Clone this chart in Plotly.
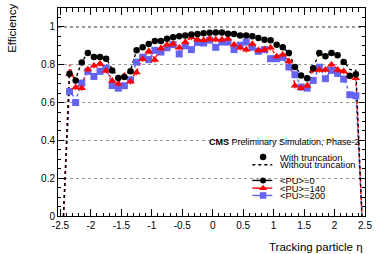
import plotly.graph_objects as go

# eta bin centres (with-truncation markers)
eta = [-2.35, -2.25, -2.15, -2.05, -1.95, -1.85, -1.75, -1.65, -1.55, -1.45,
       -1.35, -1.25, -1.15, -1.05, -0.95, -0.85, -0.75, -0.65, -0.55, -0.45,
       -0.35, -0.25, -0.15, -0.05, 0.05, 0.15, 0.25, 0.35, 0.45, 0.55,
       0.65, 0.75, 0.85, 0.95, 1.05, 1.15, 1.25, 1.35, 1.45, 1.55,
       1.65, 1.75, 1.85, 1.95, 2.05, 2.15, 2.25, 2.35]
# eta bin centres for the without-truncation curves (include edge bins)
eta_full = [-2.45] + eta + [2.45]

eff_pu0 = [0.752, 0.717, 0.812, 0.862, 0.841, 0.841, 0.832, 0.770, 0.730, 0.735,
           0.765, 0.876, 0.892, 0.910, 0.926, 0.926, 0.938, 0.945, 0.950, 0.954,
           0.960, 0.963, 0.966, 0.969, 0.970, 0.970, 0.964, 0.962, 0.955, 0.955,
           0.950, 0.941, 0.932, 0.929, 0.906, 0.892, 0.862, 0.788, 0.743, 0.729,
           0.782, 0.862, 0.845, 0.862, 0.850, 0.815, 0.742, 0.750]
eff_pu140 = [0.750, 0.680, 0.676, 0.775, 0.795, 0.805, 0.768, 0.715, 0.700, 0.742,
             0.711, 0.759, 0.830, 0.871, 0.826, 0.887, 0.905, 0.910, 0.890, 0.920,
             0.945, 0.933, 0.930, 0.937, 0.933, 0.933, 0.938, 0.906, 0.890, 0.880,
             0.910, 0.876, 0.880, 0.890, 0.844, 0.853, 0.818, 0.689, 0.676, 0.689,
             0.773, 0.773, 0.773, 0.800, 0.773, 0.765, 0.738, 0.729]
eff_pu200 = [0.658, 0.600, 0.703, 0.765, 0.738, 0.765, 0.782, 0.690, 0.676, 0.689,
             0.720, 0.814, 0.840, 0.827, 0.876, 0.867, 0.890, 0.906, 0.857, 0.900,
             0.880, 0.918, 0.915, 0.930, 0.892, 0.920, 0.920, 0.880, 0.903, 0.920,
             0.892, 0.871, 0.880, 0.832, 0.832, 0.839, 0.788, 0.747, 0.682, 0.676,
             0.717, 0.787, 0.726, 0.770, 0.754, 0.724, 0.641, 0.636]

eff_pu0_notrunc = [0.0, 0.760, 0.725, 0.815, 0.862, 0.845, 0.845, 0.835, 0.775, 0.735, 0.740,
                   0.770, 0.876, 0.892, 0.910, 0.926, 0.926, 0.938, 0.945, 0.950, 0.954,
                   0.960, 0.963, 0.966, 0.969, 0.970, 0.970, 0.964, 0.962, 0.955, 0.955,
                   0.950, 0.941, 0.932, 0.929, 0.906, 0.892, 0.862, 0.790, 0.748, 0.735,
                   0.785, 0.862, 0.848, 0.862, 0.852, 0.820, 0.775, 0.770, 0.0]
eff_pu140_notrunc = [0.0, 0.800, 0.690, 0.680, 0.780, 0.800, 0.810, 0.770, 0.720, 0.705, 0.745,
                     0.715, 0.765, 0.835, 0.871, 0.830, 0.890, 0.905, 0.910, 0.892, 0.920,
                     0.945, 0.933, 0.930, 0.937, 0.933, 0.933, 0.938, 0.906, 0.890, 0.880,
                     0.910, 0.876, 0.880, 0.890, 0.846, 0.855, 0.820, 0.695, 0.680, 0.692,
                     0.775, 0.775, 0.775, 0.805, 0.775, 0.768, 0.745, 0.735, 0.0]
eff_pu200_notrunc = [0.0, 0.670, 0.610, 0.705, 0.765, 0.740, 0.765, 0.782, 0.692, 0.678, 0.690,
                     0.722, 0.814, 0.840, 0.827, 0.876, 0.867, 0.890, 0.906, 0.857, 0.900,
                     0.880, 0.918, 0.915, 0.930, 0.892, 0.920, 0.920, 0.880, 0.903, 0.920,
                     0.892, 0.871, 0.880, 0.832, 0.832, 0.839, 0.790, 0.750, 0.685, 0.678,
                     0.720, 0.787, 0.728, 0.772, 0.756, 0.726, 0.650, 0.640, 0.0]

err_pu0 = 0.008
err_pu140 = 0.015
err_pu200 = 0.015

series_names = ["<PU>=0", "<PU>=140", "<PU>=200"]
colors = ["black", "#ff0000", "#6464f0"]
symbols = ["circle", "triangle-up", "square"]
x_ticks = [-2.5, -2, -1.5, -1, -0.5, 0, 0.5, 1, 1.5, 2, 2.5]
x_ticktext = ["-2.5", "-2", "-1.5", "-1", "-0.5", "0", "0.5", "1", "1.5", "2", "2.5"]
y_ticks = [0, 0.2, 0.4, 0.6, 0.8, 1]
y_ticktext = ["0", "0.2", "0.4", "0.6", "0.8", "1"]

FONT = "Liberation Sans, Arial, Helvetica, sans-serif"

fig = go.Figure()

notrunc = [eff_pu0_notrunc, eff_pu140_notrunc, eff_pu200_notrunc]
trunc = [eff_pu0, eff_pu140, eff_pu200]
errs = [err_pu0, err_pu140, err_pu200]
msizes = [6.5, 7.5, 7]

# dotted curves (without truncation), draw back to front
for i in [2, 1, 0]:
    fig.add_trace(go.Scatter(x=eta_full, y=notrunc[i], mode="lines",
                             line=dict(color=colors[i], width=1.4, dash="dot"),
                             showlegend=False, hoverinfo="skip", cliponaxis=True))
for i in [2, 1, 0]:
    fig.add_trace(go.Scatter(x=eta, y=trunc[i], mode="markers",
                             marker=dict(color=colors[i], symbol=symbols[i], size=msizes[i],
                                         line=dict(width=0)),
                             error_y=dict(type="constant", value=errs[i], color=colors[i],
                                          thickness=1, width=0),
                             showlegend=False, name=series_names[i]))

# legend (manual, on overlay axes in [0,1] plot-area coordinates)
leg_x0, leg_x1, leg_xm, leg_tx = 0.633, 0.698, 0.668, 0.716
leg_y = [0.2835, 0.2464, 0.171, 0.134, 0.0988]
fig.add_trace(go.Scatter(x=[leg_xm], y=[leg_y[0]], xaxis="x2", yaxis="y2", mode="markers",
                         marker=dict(color="black", size=6.5), showlegend=False, hoverinfo="skip"))
fig.add_trace(go.Scatter(x=[leg_x0, leg_x1], y=[leg_y[1]] * 2, xaxis="x2", yaxis="y2", mode="lines",
                         line=dict(color="black", width=1.4, dash="dot"), showlegend=False, hoverinfo="skip"))
for i in range(3):
    fig.add_trace(go.Scatter(x=[leg_x0, leg_x1], y=[leg_y[2 + i]] * 2, xaxis="x2", yaxis="y2",
                             mode="lines", line=dict(color=colors[i], width=1.4),
                             showlegend=False, hoverinfo="skip"))
    fig.add_trace(go.Scatter(x=[leg_xm], y=[leg_y[2 + i]], xaxis="x2", yaxis="y2", mode="markers",
                             marker=dict(color=colors[i], symbol=symbols[i], size=msizes[i] - 0.5),
                             showlegend=False, hoverinfo="skip"))

leg_texts = ["With truncation", "Without truncation"] + series_names
annotations = []
for t, yy in zip(leg_texts, leg_y):
    annotations.append(dict(x=leg_tx, y=yy, xref="paper", yref="paper", text=t.replace("<", "&lt;"),
                            showarrow=False, xanchor="left", yanchor="middle",
                            font=dict(family=FONT, size=9.4, color="black")))
annotations.append(dict(x=0.99, y=0.356, xref="paper", yref="paper",
                        text="<b>CMS</b> Preliminary Simulation, Phase-2",
                        showarrow=False, xanchor="right", yanchor="middle",
                        font=dict(family=FONT, size=9, color="black")))
annotations.append(dict(x=1.0, y=-0.148, xref="paper", yref="paper", text="Tracking particle η",
                        showarrow=False, xanchor="right", yanchor="middle",
                        font=dict(family=FONT, size=11.5, color="black")))
annotations.append(dict(x=-0.148, y=1.03, xref="paper", yref="paper", text="Efficiency",
                        showarrow=False, xanchor="center", yanchor="top", textangle=-90,
                        font=dict(family=FONT, size=11.5, color="black")))

fig.update_layout(
    width=382, height=254,
    margin=dict(l=58, r=17, t=8, b=38),
    paper_bgcolor="white", plot_bgcolor="white",
    showlegend=False,
    font=dict(family=FONT, size=10, color="black"),
    annotations=annotations,
    shapes=[dict(type="line", xref="paper", yref="y", x0=0, x1=1, y0=1, y1=1,
                 line=dict(color="black", width=1, dash="dot"), layer="below")],
    xaxis=dict(range=[-2.54, 2.5], tickvals=x_ticks, ticktext=x_ticktext,
               ticks="inside", ticklen=7, tickcolor="black", showline=True, linecolor="black",
               linewidth=1, mirror="allticks", showgrid=False, zeroline=False,
               minor=dict(dtick=0.1, tick0=0, ticks="inside", ticklen=3.5, tickcolor="black", showgrid=False),
               tickfont=dict(family=FONT, size=10)),
    yaxis=dict(range=[0, 1.1], tickvals=y_ticks, ticktext=y_ticktext,
               ticks="inside", ticklen=6, tickcolor="black", showline=True, linecolor="black",
               linewidth=1, mirror="allticks", showgrid=True, gridcolor="#9a9a9a", griddash="dot",
               gridwidth=1, zeroline=False,
               minor=dict(dtick=0.05, tick0=0, ticks="inside", ticklen=3, tickcolor="black", showgrid=False),
               tickfont=dict(family=FONT, size=10)),
    xaxis2=dict(range=[0, 1], overlaying="x", visible=False, fixedrange=True),
    yaxis2=dict(range=[0, 1], overlaying="y", visible=False, fixedrange=True),
)

fig.write_html("out.html", config={"displayModeBar": False},
               post_script="document.body.style.margin='0';document.body.style.overflow='hidden';")
